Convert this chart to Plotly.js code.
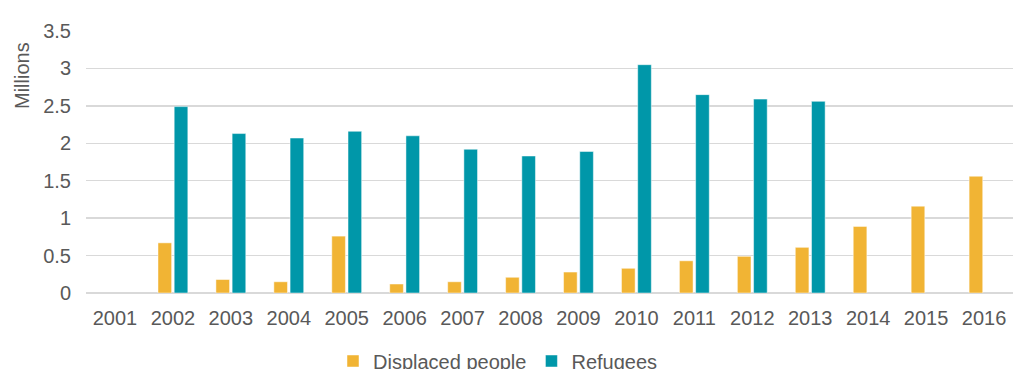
<!DOCTYPE html>
<html>
<head>
<meta charset="utf-8">
<script src="https://cdn.plot.ly/plotly-3.0.1.min.js"></script>
<style>
  html, body { margin: 0; padding: 0; background: #ffffff; overflow: hidden; }
  #chart { width: 1013px; height: 369px; }
</style>
</head>
<body>
<div id="chart"></div>
<script>
// Years on the category axis
const years = ['2001', '2002', '2003', '2004', '2005', '2006', '2007', '2008',
               '2009', '2010', '2011', '2012', '2013', '2014', '2015', '2016'];

// Internally displaced people, millions
const displaced = [null, 0.67, 0.18, 0.15, 0.76, 0.12, 0.15, 0.21,
                   0.28, 0.33, 0.43, 0.49, 0.61, 0.89, 1.16, 1.56];

// Refugees, millions
const refugees = [null, 2.49, 2.13, 2.07, 2.16, 2.10, 1.92, 1.83,
                  1.89, 3.05, 2.65, 2.59, 2.56, null, null, null];

// Value axis ticks
const yTicks = [0, 0.5, 1, 1.5, 2, 2.5, 3, 3.5];
const yTickText = ['0', '0.5', '1', '1.5', '2', '2.5', '3', '3.5'];

const textColor = '#595959';
const gridColor = '#d9d9d9';
const font = { family: 'Liberation Sans, Arial, sans-serif', size: 20, color: textColor };

const traces = [
  {
    type: 'bar',
    name: 'Displaced people',
    x: years,
    y: displaced,
    marker: { color: '#F1B434', line: { color: 'rgba(255,255,255,0.6)', width: 0.8 } },
    hoverinfo: 'x+y+name'
  },
  {
    type: 'bar',
    name: 'Refugees',
    x: years,
    y: refugees,
    marker: { color: '#0097A9', line: { color: 'rgba(255,255,255,0.6)', width: 0.8 } },
    hoverinfo: 'x+y+name'
  }
];

const layout = {
  width: 1013,
  height: 369,
  margin: { l: 86, r: 0, t: 31, b: 76, autoexpand: false },
  paper_bgcolor: '#ffffff',
  plot_bgcolor: '#ffffff',
  font: font,
  barmode: 'group',
  bargap: 0.44,
  bargroupgap: 0.16,
  showlegend: true,
  legend: {
    orientation: 'h',
    xref: 'container',
    yref: 'container',
    x: 333 / 1013,
    xanchor: 'left',
    y: (369 - 361) / 369,
    yanchor: 'middle',
    font: font,
    itemwidth: 30,
    traceorder: 'normal'
  },
  xaxis: {
    type: 'category',
    showgrid: false,
    showline: false,
    zeroline: false,
    ticks: '',
    ticklabelstandoff: 11,
    tickfont: font
  },
  yaxis: {
    range: [0, 3.5],
    tickvals: yTicks,
    ticktext: yTickText,
    showgrid: true,
    gridcolor: gridColor,
    gridwidth: 1.5,
    zeroline: true,
    zerolinecolor: gridColor,
    zerolinewidth: 1.5,
    showline: false,
    ticks: '',
    ticklabelstandoff: 14,
    tickfont: font,
    fixedrange: true
  },
  annotations: [
    {
      text: 'Millions',
      xref: 'paper',
      yref: 'paper',
      x: (22 - 86) / 927,
      y: (293 - 76) / 262,
      xanchor: 'center',
      yanchor: 'middle',
      textangle: -90,
      showarrow: false,
      font: font
    }
  ]
};

Plotly.newPlot('chart', traces, layout, { displayModeBar: false, staticPlot: true });
</script>
</body>
</html>
